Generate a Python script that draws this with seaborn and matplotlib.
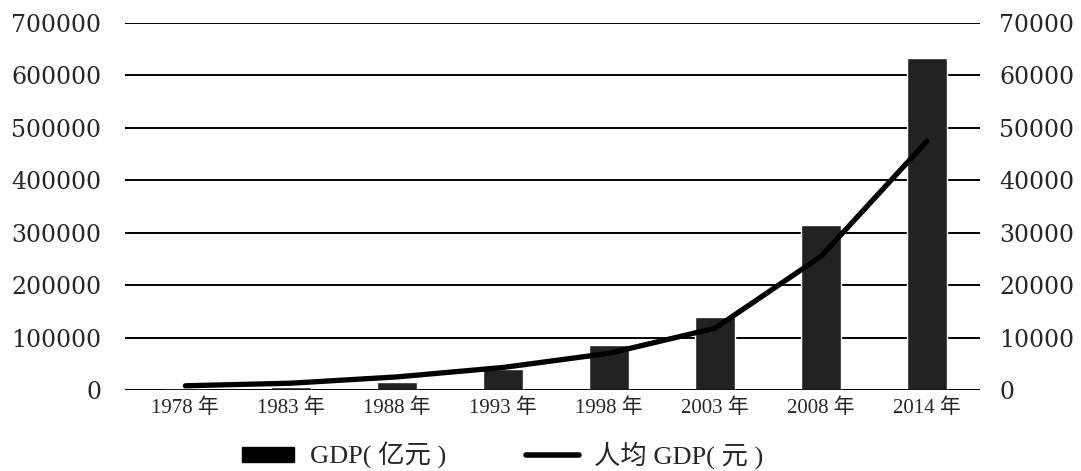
import matplotlib
matplotlib.use("Agg")
import matplotlib.pyplot as plt
import seaborn as sns
import numpy as np
from matplotlib.patches import Patch
from matplotlib.lines import Line2D
from matplotlib.font_manager import FontProperties

years = ["1978 年", "1983 年", "1988 年", "1993 年", "1998 年", "2003 年", "2008 年", "2014 年"]
gdp = [3600, 6000, 16000, 40000, 86000, 140000, 315000, 634000]
gdp_per_capita = [800, 1300, 2500, 4300, 7000, 11800, 25500, 47500]
left_ticks = [0, 100000, 200000, 300000, 400000, 500000, 600000, 700000]
right_ticks = [0, 10000, 20000, 30000, 40000, 50000, 60000, 70000]
legend_labels = ["GDP( 亿元 )", "人均 GDP( 元 )"]

sns.set_theme(style="white")
plt.rcParams['font.family'] = ['Liberation Serif', 'Noto Sans CJK SC', 'DejaVu Sans']

fig = plt.figure(figsize=(10.81, 4.71), dpi=100)
ax = fig.add_axes([0.1156, 0.172, 0.7910, 0.779])

sns.barplot(x=years, y=gdp, color="#222222", width=0.38, ax=ax, zorder=3,
            saturation=1)
ax.set_ylim(0, 700000)
ax.set_xlim(-0.57, 7.5)
ax.set_yticks(left_ticks)
ax.set_yticklabels([str(t) for t in left_ticks], fontfamily='DejaVu Serif', fontsize=17)
ax.yaxis.grid(True, color="black", linewidth=1.4, zorder=0)
ax.set_axisbelow(True)
ax.tick_params(axis='y', length=0, pad=17)
ax.tick_params(axis='x', length=0, pad=6)
for lab in ax.get_xticklabels():
    lab.set_fontfamily(['Liberation Serif', 'Noto Sans CJK SC'])
    lab.set_fontsize(15)
for s in ax.spines.values():
    s.set_visible(False)
ax.axhline(0, color="black", linewidth=1.8, zorder=4)
ax.set_xlabel("")
ax.set_ylabel("")

ax2 = ax.twinx()
sns.lineplot(x=np.arange(len(years)), y=gdp_per_capita, color="black", linewidth=3.8,
             ax=ax2, zorder=5)
ax2.set_ylim(0, 70000)
ax2.set_yticks(right_ticks)
ax2.set_yticklabels([str(t) for t in right_ticks], fontfamily='DejaVu Serif', fontsize=17)
ax2.tick_params(axis='y', length=0, pad=14)
ax2.grid(False)
for s in ax2.spines.values():
    s.set_visible(False)
ax2.set_ylabel("")

handles = [Patch(facecolor="black", edgecolor="black"),
           Line2D([0], [0], color="black", linewidth=4)]
fp = FontProperties(family=['Liberation Serif', 'Noto Sans CJK SC'], size=19)
fig.legend(handles, legend_labels, loc="center", bbox_to_anchor=(0.465, 0.034),
           ncol=2, frameon=False, prop=fp, handlelength=2.0, handleheight=0.5,
           columnspacing=3.0, handletextpad=0.6)

fig.savefig("out.png", dpi=100)
